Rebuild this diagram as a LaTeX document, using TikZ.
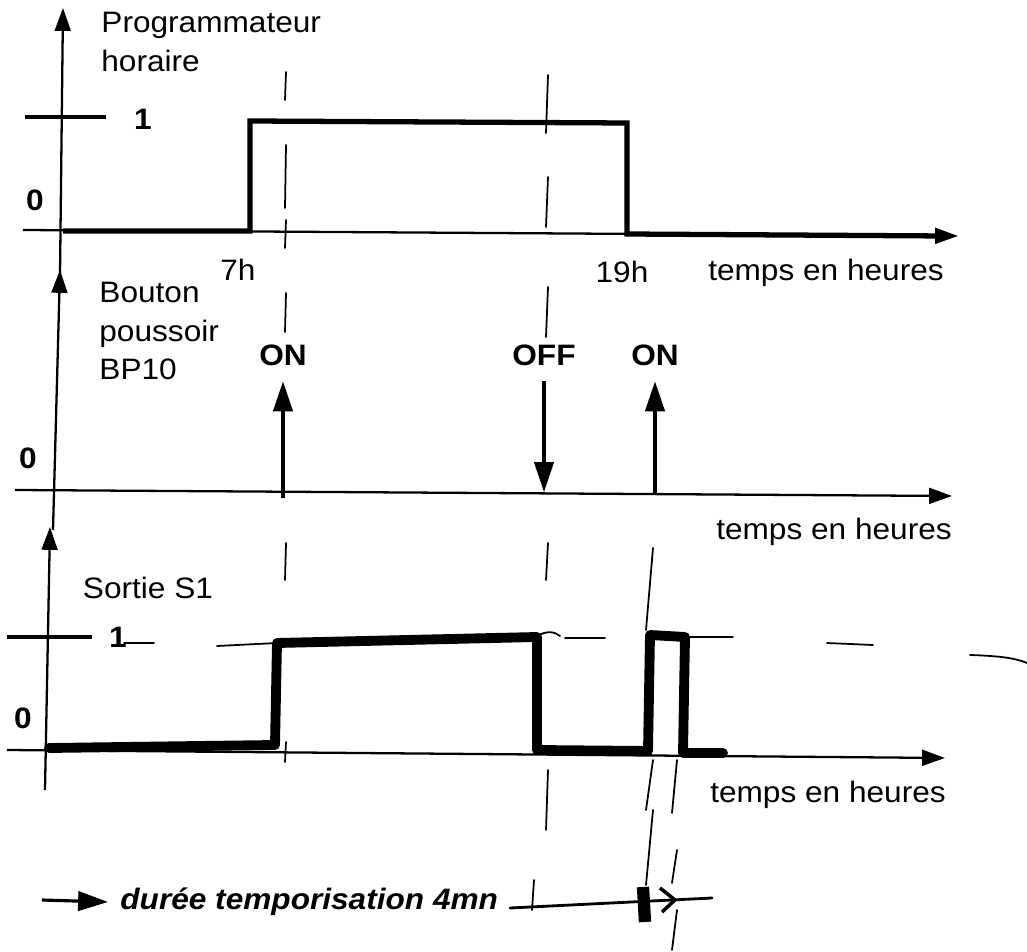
\documentclass[tikz,border=0pt]{standalone}
\usepackage{fontspec}
\setmainfont{Liberation Sans}[FakeStretch=1.07]
\usetikzlibrary{arrows.meta}

\tikzset{
  axe/.style={line width=0.65pt, -{Triangle[length=6.5pt,width=4.5pt]}},
  fleche/.style={line width=0.9pt, -{Triangle[length=8.5pt,width=5.5pt]}},
  signal/.style={line width=1.5pt},
  trace/.style={line width=2.8pt, line join=round, line cap=round},
  repere/.style={line width=0.5pt, line cap=round},
  niveau/.style={line width=1.3pt},
  texte/.style={font=\fontsize{8.4}{11}\selectfont},
  etat/.style={font=\fontsize{8.4}{11}\selectfont\bfseries},
}

\begin{document}
\begin{tikzpicture}[x=0.01cm, y=-0.01cm]
  \useasboundingbox (0,0) rectangle (1027,952);

  % Programmateur horaire
  \draw[axe] (60,275) -- (63,8);
  \draw[axe] (23,230) -- (958,236);
  \draw[niveau] (25,117) -- (106,117);
  \draw[signal] (63,231) -- (250,231) -- (250,121) -- (627,123) -- (627,234) -- (945,236);
  \node[texte, anchor=west, align=left] (prog) at (89,42) {Programmateur\\horaire};
  \node[etat] (un1) at (143,119) {1};
  \node[etat] (zero1) at (35,200) {0};
  \node[texte] (h7) at (238,270) {7h};
  \node[texte] (h19) at (622,272) {19h};
  \node[texte] (temps1) at (826,273) {temps en heures};

  % Bouton poussoir BP10
  \draw[axe] (53,530) -- (60,270);
  \draw[axe] (15,490) -- (952,496);
  \node[texte, anchor=west, align=left] (bouton) at (87,331) {Bouton\\poussoir\\BP10};
  \node[etat] (zero2) at (28,458) {0};
  \node[etat] (on1) at (283,355) {ON};
  \node[etat] (off) at (544,355) {OFF};
  \node[etat] (on2) at (655,355) {ON};
  \coordinate (p1) at (283,498);
  \coordinate (p2) at (544,492);
  \coordinate (p3) at (655,493);
  \draw[fleche, shorten >=1pt] (p1) -- (on1.south);
  \draw[fleche, shorten <=1pt] (off.south) -- (p2);
  \draw[fleche, shorten >=1pt] (p3) -- (on2.south);
  \node[texte] (temps2) at (834,532) {temps en heures};

  % Sortie S1
  \draw[axe] (45,790) -- (50,527);
  \draw[axe] (7,750) -- (945,758);
  \draw[niveau] (7,637) -- (92,637);
  \node[texte] (sortie) at (148,588) {Sortie S1};
  \node[etat] (un3) at (118,637) {1};
  \node[etat] (zero3) at (23,718) {0};
  \node[texte] (temps3) at (828,795) {temps en heures};
  \draw[trace] (49,748) -- (275,745) -- (277,643) -- (537,637) -- (537,750)
    -- (648,751) -- (650,635) -- (685,637) -- (683,753) -- (723,753);
  \draw[repere] (124,643) -- (154,643);
  \draw[repere] (217,646) -- (277,643);
  \draw[repere] (537,636) .. controls (548,630) and (555,632) .. (560,636);
  \draw[repere] (565,638) -- (605,638);
  \draw[repere] (688,637) -- (733,637);
  \draw[repere] (827,643) -- (873,645);
  \draw[repere] (970,655) .. controls (1000,656) and (1015,658) .. (1027,663);

  % reperes verticaux
  \foreach \a/\b in {72/100, 145/208, 220/248, 293/332, 543/580, 742/762}
    \draw[repere] (286,\a) -- (285,\b);
  \foreach \a/\b in {75/133, 177/227, 287/337, 543/580, 770/830}
    \draw[repere] (548,\a) -- (546,\b);
  \draw[repere] (534,880) -- (532,910);
  \foreach \a/\b in {548/630, 760/810, 810/885}
    \draw[repere] (653,\a) -- (646,\b);
  \foreach \a/\b in {760/813, 850/883, 910/950}
    \draw[repere] (677,\a) -- (672,\b);

  % duree temporisation
  \coordinate (d0) at (42,900);
  \node[etat, font=\fontsize{8.4}{11}\selectfont\bfseries\itshape, anchor=west] (duree) at (108,902) {durée temporisation 4mn};
  \draw[fleche] (d0) -- (duree.west);
  \coordinate (t1) at (510,908);
  \coordinate (t2) at (712,898);
  \draw[line width=0.8pt, line cap=round] (t1) -- (t2);
  \draw[line width=3.5pt] (643,887) -- (645,922);
  \draw[line width=1pt] (660,888) -- (675,900) -- (662,912);
\end{tikzpicture}
\end{document}
